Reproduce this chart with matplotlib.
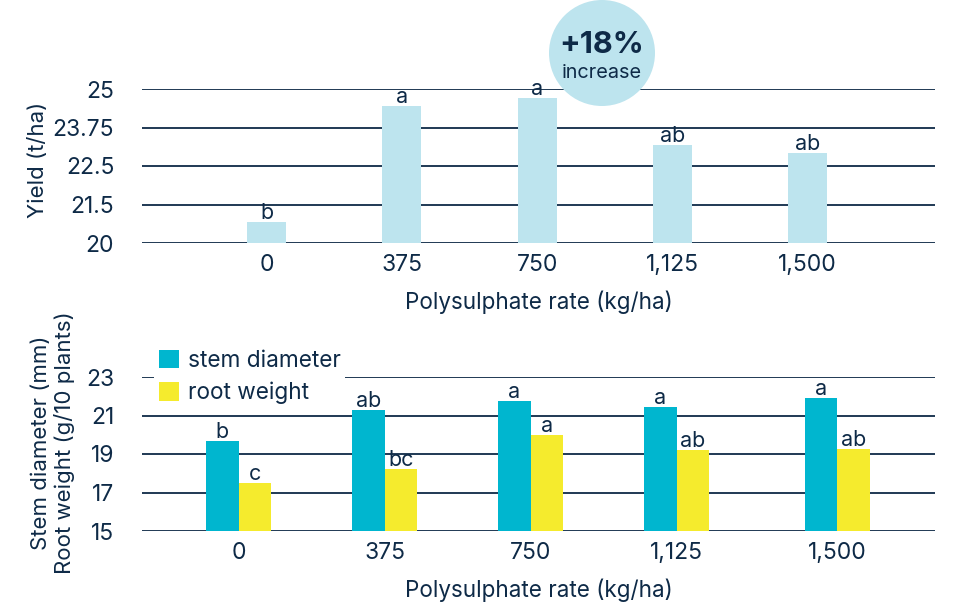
import numpy as np
import matplotlib.pyplot as plt
from matplotlib.patches import Ellipse

plt.rcParams['font.family'] = ['Inter', 'DejaVu Sans']

rates = ['0', '375', '750', '1,125', '1,500']
yield_t = [20.68, 24.45, 24.71, 23.18, 22.92]
yield_sig = ['b', 'a', 'a', 'ab', 'ab']
yield_ticks = ['20', '21.5', '22.5', '23.75', '25']

stem = [19.69, 21.30, 21.77, 21.46, 21.93]
stem_sig = ['b', 'ab', 'a', 'a', 'a']
root = [17.50, 18.23, 20.00, 19.22, 19.27]
root_sig = ['c', 'bc', 'a', 'ab', 'ab']

navy = '#0e2a47'
light = '#bde4ee'
teal = '#00b6cf'
yellow = '#f5eb2d'

W, H = 980, 608
fig = plt.figure(figsize=(W/100, H/100), dpi=100)

def axbox(l, r, t, b):
    return [l/W, 1-b/H, (r-l)/W, (b-t)/H]

def style(ax, yt, ylabels):
    for s in ax.spines.values():
        s.set_visible(False)
    ax.set_yticks(yt)
    ax.set_yticklabels(ylabels)
    ax.tick_params(length=0, labelsize=16.5, colors=navy, pad=20)
    ax.tick_params(axis='x', pad=8)
    for y in yt:
        ax.axhline(y, color=navy, lw=1.3, zorder=0)
    ax.set_xlabel('Polysulphate rate (kg/ha)', fontsize=16.2, color=navy, labelpad=10)

# top: yield
ax1 = fig.add_axes(axbox(142, 935, 89, 243))
x = np.arange(len(rates))
bars = ax1.bar(x, np.array(yield_t) - 20, bottom=20, width=0.29, color=light, zorder=2)
for b, s in zip(bars, yield_sig):
    ax1.annotate(s, (b.get_x() + b.get_width()/2, b.get_y() + b.get_height()),
                 xytext=(0, -1), textcoords='offset points', ha='center', va='bottom',
                 fontsize=15.5, color=navy, zorder=3)
ax1.set_xticks(x)
ax1.set_xticklabels(rates)
ax1.set_xlim(-0.92, 4.94)
ax1.set_ylim(20, 25)
style(ax1, np.linspace(20, 25, 5), yield_ticks)

# bottom: stem diameter / root weight
ax2 = fig.add_axes(axbox(142, 935, 377, 531))
gx = np.array([0, 1, 2, 3, 4.1])
w = 0.223
b1 = ax2.bar(gx - w/2, np.array(stem) - 15, bottom=15, width=w, color=teal, zorder=2, label='stem diameter')
b2 = ax2.bar(gx + w/2, np.array(root) - 15, bottom=15, width=w, color=yellow, zorder=2, label='root weight')
for bs, sig in ((b1, stem_sig), (b2, root_sig)):
    for b, s in zip(bs, sig):
        ax2.annotate(s, (b.get_x() + b.get_width()/2, b.get_y() + b.get_height()),
                     xytext=(0, -1), textcoords='offset points', ha='center', va='bottom',
                     fontsize=15.5, color=navy, zorder=3)
ax2.set_xticks(gx)
ax2.set_xticklabels(rates)
ax2.set_xlim(-0.661, 4.77)
ax2.set_ylim(15, 23)
style(ax2, [15, 17, 19, 21, 23], ['15', '17', '19', '21', '23'])
leg = ax2.legend(loc='upper left', bbox_to_anchor=((154-142)/793, (531-345)/154),
                 frameon=True, facecolor='white', edgecolor='none', framealpha=1,
                 fontsize=16.3, handlelength=0.9, handleheight=0.9, handletextpad=0.4,
                 labelspacing=0.45, borderpad=0.2, borderaxespad=0, fancybox=False)
for t in leg.get_texts():
    t.set_color(navy)
leg.set_zorder(5)

# y labels
fig.text(38/W, 1-160/H, 'Yield (t/ha)', rotation=90, ha='center', va='center',
         fontsize=16, color=navy)
fig.text(53/W, 1-443/H, 'Stem diameter (mm)\nRoot weight (g/10 plants)', rotation=90,
         ha='center', va='center', multialignment='center', linespacing=1.2,
         fontsize=16, color=navy)

# callout bubble
fig.add_artist(Ellipse((602/W, 1-53/H), 106/W, 106/H, transform=fig.transFigure,
                       facecolor=light, edgecolor='none', zorder=3))
fig.text(602/W, 1-45/H, '+18%', ha='center', va='center', fontsize=22,
         fontweight='bold', color=navy, zorder=4)
fig.text(602/W, 1-73/H, 'increase', ha='center', va='center', fontsize=14.3,
         color=navy, zorder=4)

fig.savefig('out.png', dpi=100, facecolor='white')
